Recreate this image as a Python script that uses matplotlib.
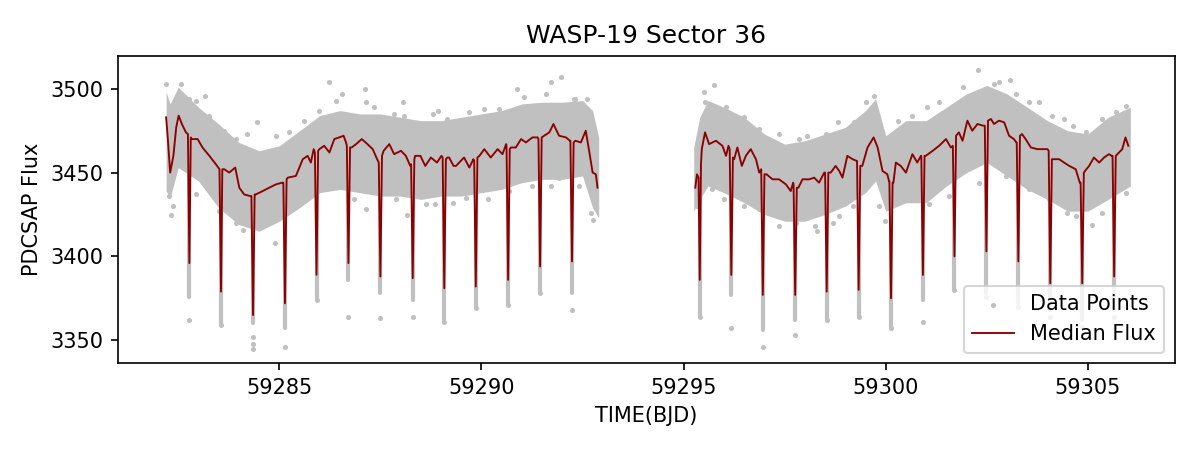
import numpy as np
import matplotlib
matplotlib.use("Agg")
import matplotlib.pyplot as plt

# -------------------------
# DATA
# -------------------------
# median flux, first orbit (BJD - 2400000.5, e-/s)
median_time_1 = [
    59282.20, 59282.24, 59282.30, 59282.38, 59282.45, 59282.51, 59282.59, 59282.69,
    59282.74, 59282.775, 59282.81, 59282.83, 59282.98, 59283.10, 59283.27, 59283.43,
    59283.52, 59283.558, 59283.59, 59283.64, 59283.76, 59283.91, 59284.01, 59284.13,
    59284.28, 59284.31, 59284.35, 59284.39, 59284.42, 59284.59, 59284.75, 59284.92,
    59285.07, 59285.10, 59285.14, 59285.18, 59285.21, 59285.41, 59285.58, 59285.70,
    59285.78, 59285.85, 59285.88, 59285.92, 59285.96, 59285.99, 59286.11, 59286.24,
    59286.36, 59286.48, 59286.59, 59286.65, 59286.67, 59286.71, 59286.75, 59286.79,
    59286.90, 59287.04, 59287.18, 59287.31, 59287.42, 59287.46, 59287.50, 59287.54,
    59287.58, 59287.72, 59287.84, 59288.01, 59288.13, 59288.24, 59288.26, 59288.30,
    59288.34, 59288.36, 59288.49, 59288.61, 59288.75, 59288.90, 59289.01, 59289.04,
    59289.08, 59289.12, 59289.16, 59289.20, 59289.31, 59289.37, 59289.57, 59289.70,
    59289.80, 59289.82, 59289.86, 59289.90, 59289.95, 59290.07, 59290.23, 59290.40,
    59290.52, 59290.61, 59290.62, 59290.66, 59290.70, 59290.73, 59290.85, 59290.98,
    59291.10, 59291.26, 59291.39, 59291.41, 59291.45, 59291.49, 59291.55, 59291.68,
    59291.78, 59291.92, 59292.09, 59292.19, 59292.20, 59292.24, 59292.28, 59292.32,
    59292.46, 59292.58, 59292.67, 59292.75, 59292.83, 59292.87,
]
median_flux_1 = [
    3483, 3471, 3450, 3460, 3477, 3484, 3479, 3474,
    3473, 3396, 3471, 3470, 3470, 3465, 3460, 3455,
    3452, 3379, 3452, 3452, 3450, 3453, 3441, 3437,
    3436, 3436, 3365, 3437, 3437, 3439, 3441, 3443,
    3444, 3444, 3372, 3446, 3447, 3448, 3458, 3460,
    3456, 3464, 3462, 3389, 3463, 3464, 3466, 3462,
    3470, 3471, 3472, 3468, 3466, 3396, 3465, 3465,
    3467, 3470, 3467, 3464, 3458, 3456, 3388, 3460,
    3463, 3467, 3461, 3463, 3460, 3454, 3455, 3387,
    3458, 3460, 3460, 3454, 3459, 3456, 3460, 3459,
    3381, 3458, 3459, 3459, 3454, 3454, 3459, 3453,
    3458, 3457, 3382, 3459, 3460, 3464, 3459, 3464,
    3461, 3467, 3466, 3386, 3464, 3465, 3465, 3470,
    3468, 3471, 3471, 3470, 3394, 3471, 3472, 3474,
    3479, 3472, 3471, 3469, 3469, 3397, 3468, 3469,
    3468, 3475, 3462, 3450, 3449, 3441,
]

# median flux, second orbit
median_time_2 = [
    59295.29, 59295.33, 59295.37, 59295.40, 59295.43, 59295.45, 59295.53, 59295.63,
    59295.80, 59295.96, 59296.05, 59296.11, 59296.14, 59296.18, 59296.22, 59296.25,
    59296.33, 59296.44, 59296.54, 59296.66, 59296.79, 59296.87, 59296.92, 59296.96,
    59297.00, 59297.05, 59297.20, 59297.36, 59297.53, 59297.65, 59297.71, 59297.72,
    59297.76, 59297.80, 59297.84, 59297.94, 59298.11, 59298.23, 59298.35, 59298.48,
    59298.50, 59298.54, 59298.58, 59298.64, 59298.76, 59298.85, 59298.93, 59299.05,
    59299.18, 59299.28, 59299.29, 59299.33, 59299.37, 59299.42, 59299.55, 59299.70,
    59299.80, 59299.92, 59300.04, 59300.08, 59300.09, 59300.13, 59300.17, 59300.19,
    59300.25, 59300.37, 59300.50, 59300.66, 59300.78, 59300.87, 59300.88, 59300.92,
    59300.96, 59300.99, 59301.16, 59301.32, 59301.49, 59301.61, 59301.66, 59301.70,
    59301.74, 59301.81, 59301.90, 59302.02, 59302.14, 59302.27, 59302.41, 59302.45,
    59302.49, 59302.53, 59302.60, 59302.68, 59302.80, 59302.93, 59303.05, 59303.17,
    59303.23, 59303.24, 59303.28, 59303.32, 59303.37, 59303.46, 59303.59, 59303.75,
    59303.88, 59304.00, 59304.03, 59304.07, 59304.11, 59304.16, 59304.29, 59304.41,
    59304.54, 59304.70, 59304.80, 59304.82, 59304.86, 59304.90, 59304.93, 59305.03,
    59305.15, 59305.28, 59305.40, 59305.52, 59305.59, 59305.61, 59305.65, 59305.69,
    59305.73, 59305.85, 59305.93, 59306.00,
]
median_flux_2 = [
    3441, 3449, 3447, 3386, 3455, 3464, 3474, 3467,
    3469, 3466, 3460, 3466, 3464, 3389, 3459, 3458,
    3465, 3454, 3460, 3464, 3458, 3450, 3452, 3377,
    3449, 3449, 3446, 3446, 3443, 3439, 3444, 3443,
    3377, 3441, 3441, 3446, 3446, 3447, 3444, 3450,
    3450, 3379, 3450, 3450, 3454, 3451, 3447, 3460,
    3458, 3457, 3457, 3380, 3454, 3454, 3465, 3471,
    3465, 3451, 3449, 3445, 3445, 3375, 3444, 3444,
    3456, 3454, 3450, 3461, 3456, 3460, 3460, 3389,
    3460, 3460, 3463, 3466, 3470, 3465, 3466, 3400,
    3472, 3474, 3469, 3481, 3475, 3479, 3478, 3478,
    3403, 3481, 3482, 3479, 3481, 3480, 3472, 3470,
    3468, 3468, 3397, 3472, 3473, 3470, 3465, 3464,
    3464, 3464, 3463, 3384, 3458, 3458, 3458, 3456,
    3454, 3452, 3444, 3444, 3384, 3450, 3451, 3454,
    3459, 3456, 3459, 3461, 3460, 3460, 3388, 3460,
    3461, 3464, 3471, 3466,
]

# dense part of the data-point cloud (lower / upper edge)
band_time_1 = [59282.20, 59282.30, 59282.50, 59283.0, 59283.5, 59284.0, 59284.5, 59285.0,
               59285.5, 59286.0, 59286.5, 59287.0, 59287.5, 59288.0, 59288.5, 59289.0,
               59289.5, 59290.0, 59290.5, 59291.0, 59291.5, 59292.0, 59292.5, 59292.75,
               59292.90]
band_high_1 = [3498, 3491, 3501, 3489, 3479, 3468, 3463, 3466, 3475, 3484, 3487, 3485,
               3485, 3483, 3481, 3481, 3483, 3485, 3487, 3491, 3492, 3492, 3493, 3487, 3471]
band_low_1 = [3439, 3435, 3453, 3445, 3429, 3419, 3415, 3421, 3429, 3438, 3440, 3438,
              3436, 3436, 3434, 3436, 3436, 3438, 3440, 3444, 3446, 3446, 3448, 3429, 3423]

band_time_2 = [59295.25, 59295.40, 59295.60, 59296.0, 59296.5, 59297.0, 59297.5, 59298.0,
               59298.5, 59299.0, 59299.5, 59299.75, 59300.0, 59300.5, 59301.0, 59301.5,
               59302.0, 59302.5, 59303.0, 59303.5, 59304.0, 59304.5, 59305.0, 59305.5,
               59306.05]
band_high_2 = [3465, 3483, 3493, 3489, 3483, 3473, 3467, 3469, 3473, 3477, 3487, 3494,
               3472, 3481, 3481, 3489, 3497, 3502, 3497, 3489, 3481, 3475, 3473, 3483, 3489]
band_low_2 = [3427, 3434, 3442, 3438, 3432, 3425, 3421, 3421, 3425, 3430, 3438, 3445,
              3427, 3432, 3432, 3442, 3450, 3456, 3448, 3440, 3434, 3427, 3427, 3434, 3442]

# in-transit data points: mid-time, column top, column bottom, lowest single point
transit_time = [59282.775, 59283.558, 59284.35, 59285.14, 59285.92, 59286.71, 59287.50,
                59288.30, 59289.08, 59289.86, 59290.66, 59291.45, 59292.24,
                59295.40, 59296.18, 59296.96, 59297.76, 59298.54, 59299.33, 59300.13,
                59300.92, 59301.70, 59302.49, 59303.28, 59304.07, 59304.86, 59305.65]
transit_top = [3472, 3452, 3436, 3445, 3463, 3466, 3458, 3456, 3459, 3458, 3465, 3471, 3469,
               3450, 3462, 3450, 3442, 3450, 3456, 3445, 3460, 3468, 3479, 3469, 3462, 3447,
               3460]
transit_col_low = [3376, 3359, 3360, 3357, 3374, 3386, 3378, 3374, 3361, 3369, 3371, 3378,
                   3378, 3364, 3377, 3356, 3362, 3362, 3364, 3357, 3374, 3380, 3378, 3372,
                   3368, 3362, 3368]
transit_min_point = [3362, 3359, 3345, 3346, 3374, 3364, 3363, 3364, 3361, 3369, 3371, 3378,
                     3368, 3364, 3357, 3346, 3353, 3362, 3364, 3357, 3361, 3380, 3376, 3370,
                     3364, 3358, 3364]

# single points around the edges of the cloud
edge_time = [
    # first orbit, above
    59282.20, 59282.57, 59282.77, 59282.95, 59283.15, 59283.27, 59283.64, 59283.93,
    59284.19, 59284.46, 59284.92, 59285.25, 59285.62, 59285.97, 59286.24, 59286.40,
    59286.54, 59287.13, 59287.14, 59287.35, 59287.84, 59288.07, 59288.09, 59288.79,
    59288.92, 59289.16, 59289.70, 59290.07, 59290.44, 59290.87, 59291.06, 59291.60,
    59291.73, 59291.96, 59292.29, 59292.31, 59292.62,
    # first orbit, below
    59282.28, 59282.32, 59282.36, 59282.95, 59283.52, 59283.93, 59284.09, 59284.34,
    59284.36, 59284.63, 59284.89, 59285.29, 59285.49, 59286.07, 59286.85, 59287.14,
    59287.88, 59288.17, 59288.63, 59288.86, 59289.29, 59289.62, 59290.15, 59290.69,
    59291.26, 59291.72, 59291.92, 59292.42, 59292.71, 59292.77, 59292.83,
    # second orbit, above
    59295.51, 59295.53, 59295.76, 59296.05, 59296.50, 59296.87, 59297.36, 59297.86,
    59298.06, 59298.52, 59298.81, 59299.21, 59299.51, 59299.70, 59300.30, 59300.66,
    59301.03, 59301.32, 59301.90, 59302.27, 59302.68, 59302.81, 59303.08, 59303.22,
    59303.55, 59303.80, 59304.12, 59304.40, 59304.62, 59304.95, 59305.36, 59305.69,
    59305.94,
    # second orbit, below
    59295.34, 59295.71, 59296.00, 59296.50, 59296.87, 59297.35, 59297.78, 59298.24,
    59298.31, 59298.70, 59298.85, 59299.18, 59299.84, 59299.97, 59300.17, 59300.66,
    59301.07, 59301.57, 59302.31, 59302.97, 59303.55, 59304.04, 59304.49, 59304.70,
    59305.09, 59305.36, 59305.94,
]
edge_flux = [
    3503, 3503, 3494, 3493, 3496, 3484, 3475, 3470,
    3473, 3480, 3472, 3474, 3481, 3487, 3504, 3493,
    3497, 3500, 3492, 3489, 3485, 3492, 3484, 3485,
    3487, 3482, 3486, 3488, 3488, 3500, 3495, 3497,
    3504, 3507, 3494, 3494, 3494,
    3436, 3425, 3430, 3437, 3427, 3420, 3416, 3352,
    3348, 3421, 3408, 3430, 3433, 3440, 3434, 3428,
    3434, 3425, 3431, 3431, 3432, 3435, 3434, 3439,
    3442, 3442, 3447, 3442, 3426, 3422, 3431,
    3498, 3492, 3502, 3489, 3483, 3476, 3473, 3470,
    3472, 3473, 3480, 3480, 3492, 3496, 3481, 3484,
    3489, 3492, 3501, 3511, 3503, 3504, 3505, 3497,
    3492, 3492, 3484, 3482, 3478, 3474, 3482, 3486,
    3490,
    3430, 3440, 3434, 3430, 3428, 3418, 3420, 3418,
    3415, 3420, 3424, 3430, 3430, 3421, 3432, 3434,
    3431, 3436, 3444, 3448, 3440, 3434, 3426, 3424,
    3419, 3426, 3438,
]

# -------------------------
# PLOT
# -------------------------
fig, ax = plt.subplots(figsize=(8, 3), dpi=150)
fig.subplots_adjust(left=0.098, right=0.979, bottom=0.193, top=0.876)

gray = "#c0c0c0"

ax.fill_between(band_time_1, band_low_1, band_high_1, color=gray, lw=0, zorder=1)
ax.fill_between(band_time_2, band_low_2, band_high_2, color=gray, lw=0, zorder=1)
ax.vlines(transit_time, transit_col_low, transit_top, color=gray, lw=2.0,
          capstyle="round", zorder=1)

ax.scatter(transit_time, transit_min_point, s=6, color=gray, lw=0, zorder=2)
ax.scatter(edge_time, edge_flux, s=6, color=gray, lw=0, zorder=2,
           label="Data Points")

median_time = median_time_1 + [np.nan] + median_time_2
median_flux = median_flux_1 + [np.nan] + median_flux_2
ax.plot(median_time, median_flux, color="darkred", lw=0.9, zorder=3,
        label="Median Flux")

ax.set_xlim(59281.0, 59307.15)
ax.set_ylim(3336.3, 3519.7)
ax.set_title("WASP-19 Sector 36")
ax.set_xlabel("TIME(BJD)")
ax.set_ylabel("PDCSAP Flux")
ax.legend(loc="lower right")

fig.savefig("out.png", dpi=150)
